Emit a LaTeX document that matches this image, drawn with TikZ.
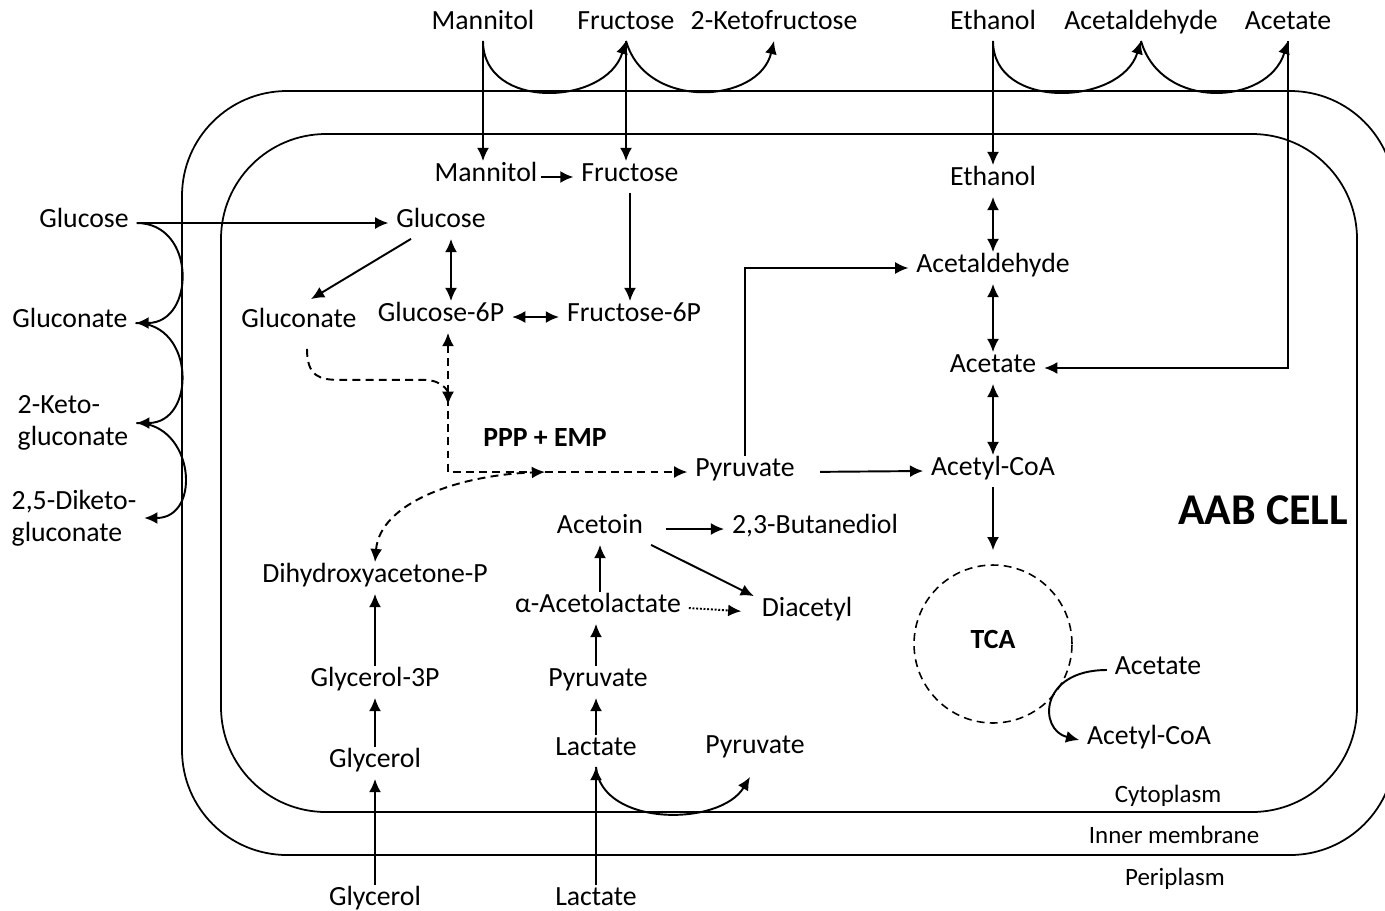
\documentclass[tikz,border=0pt]{standalone}
\usepackage{fontspec}
\setmainfont{Carlito}
\usetikzlibrary{calc,arrows.meta}

\begin{document}
\begin{tikzpicture}[x=0.02cm, y=-0.02cm, line width=1.1pt,
  >={Latex[length=7.5pt,width=6.8pt]},
  every node/.style={font=\fontsize{15.8}{18}\selectfont, inner sep=4pt, yshift=-0.06cm,
    text height=0.7em, text depth=0.2em},
  twoline/.style={align=left, text height=, text depth=},
  zone/.style={font=\fontsize{14.2}{17}\selectfont},
  flux/.style={dash pattern=on 4.5pt off 3pt},
  membrane/.style={line width=1pt, rounded corners=2.1cm}]

\useasboundingbox (0,0) rectangle (1385,910);

\draw[membrane] (182,91) rectangle (1395,855);
\draw[membrane] (221,134) rectangle (1357,812);

\node[name=manO] at (483,22) {Mannitol};
\node[name=fruO] at (626,22) {Fructose};
\node[name=ketO] at (774,22) {2-Ketofructose};
\node[name=ethO] at (993,22) {Ethanol};
\node[name=acdO] at (1141,22) {Acetaldehyde};
\node[name=aceO] at (1288,22) {Acetate};

\node[name=gluO] at (84,220) {Glucose};
\node[name=gcnO] at (70,320) {Gluconate};
\node[name=kglO, twoline] at (73,420) {2-Keto-\\gluconate};
\node[name=dkgO, twoline] at (74,515) {2,5-Diketo-\\gluconate};
\node[name=glyO] at (375,898) {Glycerol};
\node[name=lacO] at (596,898) {Lactate};

\node[name=manI] at (486,174) {Mannitol};
\node[name=fruI] at (630,174) {Fructose};
\node[name=gluI] at (441,220) {Glucose};
\node[name=gcnI] at (299,320) {Gluconate};
\node[name=g6p] at (441,314) {Glucose-6P};
\node[name=f6p] at (634,314) {Fructose-6P};
\node[name=ppp] at (545,439) {\bfseries PPP + EMP};
\node[name=pyrM] at (745,469) {Pyruvate};

\node[name=ethI] at (993,178) {Ethanol};
\node[name=acdI] at (993,265) {Acetaldehyde};
\node[name=aceI] at (993,365) {Acetate};
\node[name=acoI] at (993,468) {Acetyl-CoA};
\node[name=tca, shape=circle, draw, flux, line width=0.9pt, minimum size=3.16cm] at (993,641) {\bfseries TCA};
\node[name=aceS] at (1158,667) {Acetate};
\node[name=acoS] at (1149,737) {Acetyl-CoA};

\node[name=acn] at (600,526) {Acetoin};
\node[name=btd] at (815,526) {2,3-Butanediol};
\node[name=aal] at (598,605) {α-Acetolactate};
\node[name=dia] at (807,609) {Diacetyl};
\node[name=pyrL] at (598,679) {Pyruvate};
\node[name=lacI] at (596,748) {Lactate};
\node[name=pyrB] at (755,746) {Pyruvate};

\node[name=dhap] at (375,575) {Dihydroxyacetone-P};
\node[name=g3p] at (375,679) {Glycerol-3P};
\node[name=glyI] at (375,760) {Glycerol};

\node[name=aab, font=\fontsize{25}{30}\selectfont\bfseries] at (1263,517) {AAB CELL};
\node[name=cyt, zone] at (1168,795) {Cytoplasm};
\node[name=inm, zone] at (1174,836) {Inner membrane};
\node[name=per, zone] at (1175,878) {Periplasm};

\draw[->] (manO.south) -- (manO.south |- manI.north);
\draw[->] (manO.south) .. controls +(0,70) and +(-20,65) .. (fruO.south);
\draw[->] (fruO.south) .. controls +(20,70) and +(-15,63) .. (ketO.south);
\draw[->] (fruO.south) -- (fruO.south |- fruI.north);
\draw[->] (ethO.south) -- (ethO.south |- ethI.north);
\draw[->] (ethO.south) .. controls +(0,70) and +(-20,65) .. (acdO.south);
\draw[->] (acdO.south) .. controls +(20,70) and +(-20,65) .. (aceO.south);
\draw[->] (aceO.south) |- (aceI.east);

\draw[->] (gluO.east) -- (gluI.west);
\draw[->] (gluO.east) .. controls +(60,0) and +(60,0) .. (gcnO.east);
\draw[->] (gcnO.east) .. controls +(60,0) and +(60,0) .. (kglO.east);
\draw[->] (kglO.east) .. controls +(58,0) and +(58,0) .. (dkgO.east);

\draw[->, shorten <=-0.08cm] (manI.east) -- (fruI.west);
\draw[->] (fruI.south) -- (fruI.south |- f6p.north);
\draw[->] ($(gluI.south)+(-30,0)$) -- ($(gcnI.north)+(12,-8)$);
\draw[<->] ($(gluI.south)+(10,0)$) -- ($(g6p.north)+(10,0)$);
\draw[<->] (g6p.east) -- (f6p.west);

\draw[<->, flux] ($(g6p.south)+(7,0)$) |- (pyrM.west);
\draw[->, flux] ($(gcnI.south)+(8,10)$) .. controls +(0,28) and +(-20,0) .. ($(gcnI.south)+(41,41)$)
  -- ($(g6p.south)+(-16,47)$) .. controls +(15,0) and +(0,-15) .. ($(g6p.south)+(7,72)$);
\draw[<->, flux] (dhap.north) .. controls +(5,-60) and +(-85,3) .. (ppp.south |- pyrM.west);

\draw[->] (pyrM.north) |- (acdI.west);
\draw[->, shorten <=0.35cm] (pyrM.east) -- (acoI.west);
\draw[<->] (ethI.south) -- (acdI.north);
\draw[<->] (acdI.south) -- (aceI.north);
\draw[<->] (aceI.south) -- (acoI.north);
\draw[->, shorten >=0.28cm] (acoI.south) -- (tca.north);
\draw[->] (aceS.west) .. controls +(-68,0) and +(-41,-10) .. (acoS.west);

\draw[->, shorten <=0.3cm] (acn.east) -- (btd.west);
\draw[->] (acn.south east) -- (dia.north west);
\draw[->, densely dotted, shorten >=0.25cm] (aal.east) -- (dia.west);
\draw[->] (aal.north -| acn.south) -- (acn.south);
\draw[->] (pyrL.north -| lacI.north) -- (aal.south -| lacI.north);
\draw[->] (lacI.north) -- (lacI.north |- pyrL.south);
\draw[->] (lacO.north) -- (lacI.south);
\draw[->] (lacI.south) .. controls +(5,60) and +(-30,50) .. ($(pyrB.south)+(-5,12)$);

\draw[->] (g3p.north) -- (dhap.south);
\draw[->] (glyI.north) -- (g3p.south);
\draw[->] (glyO.north) -- (glyI.south);

\end{tikzpicture}
\end{document}
